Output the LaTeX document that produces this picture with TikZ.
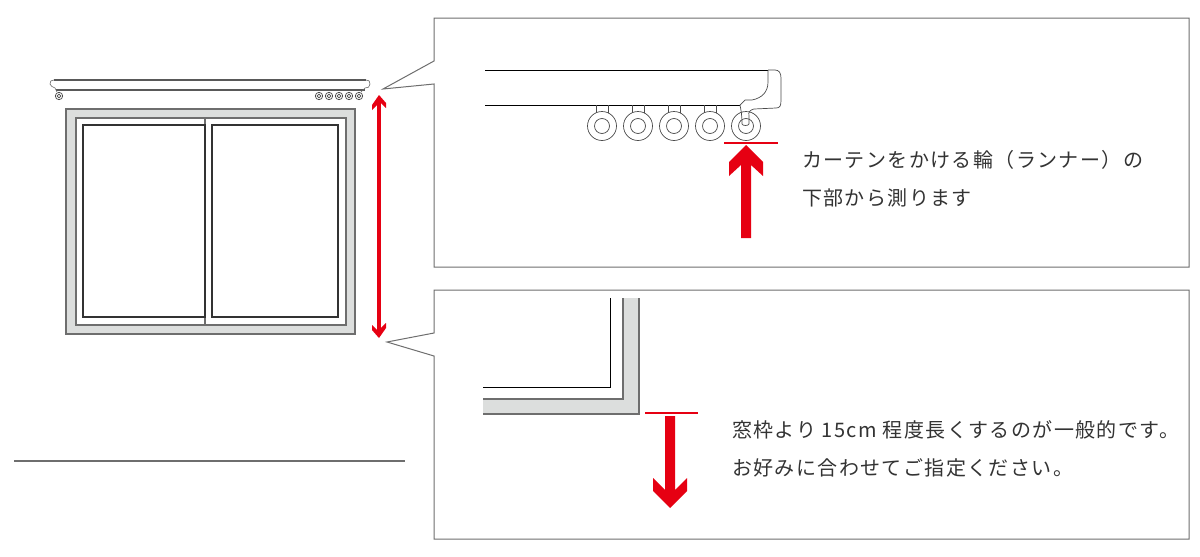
\documentclass[tikz,border=0pt]{standalone}
\usepackage{fontspec}
\newfontfamily\jpfont[LetterSpace=7]{Noto Sans CJK JP}
\definecolor{framegray}{HTML}{DCDEDD}
\definecolor{linegray}{HTML}{6E6E6E}
\definecolor{markred}{HTML}{E60012}
\definecolor{inktext}{HTML}{333333}

\begin{document}
\begin{tikzpicture}[x=1pt,y=-1pt,line join=miter,
    callout/.style={draw=linegray,line width=1pt,fill=white},
    frameline/.style={draw=linegray,line width=1.3pt},
    sashline/.style={draw=black!80,line width=1.1pt},
    thinline/.style={draw=black!70,line width=.7pt},
    redmark/.style={fill=markred,draw=none},
    redline/.style={draw=markred,line width=2pt},
    note/.style={anchor=west,text=inktext,font=\jpfont\fontsize{20}{20}\selectfont,inner sep=0pt}]
    \useasboundingbox (0,0) rectangle (1200,557);

    % callouts
    \draw[callout] (434,18) -- (1189,18) -- (1189,267) -- (434,267) -- (434,84)
      -- (383,89) -- (434,61) -- cycle;
    \draw[callout] (434,290) -- (1189,290) -- (1189,539) -- (434,539) -- (434,356)
      -- (387,342) -- (434,333) -- cycle;
    \draw[draw=linegray,line width=1.1pt] (14,461) -- (405,461);

    % window
    \path[fill=framegray,frameline] (66,109) rectangle (355,334);
    \path[fill=white,frameline] (76,118) rectangle (346,325);
    \draw[frameline] (205,118) -- (205,325);
    \draw[sashline] (83,125) rectangle (205,317);
    \draw[sashline] (212,125) rectangle (338,317);

    % small rail
    \draw[draw=black!65,line width=1.1pt] (54,80) -- (366,80) (56,90) -- (365,90);
    \draw[draw=black!60,line width=.6pt] (54,80) .. controls (51,80) and (50,81) .. (50,84)
      .. controls (50,87) and (53,86) .. (55,88) -- (57,92);
    \draw[draw=black!60,line width=.6pt] (366,80) .. controls (369,80) and (370,81) .. (370,84)
      .. controls (370,87) and (368,88) .. (365,88) -- (361,92);
    \foreach \x in {59,319,329,339,349,359}{
      \draw[draw=black!70,line width=.7pt] (\x,96) circle (3.7) (\x,96) circle (1.8);
    }

    % small arrow
    \coordinate (htop) at (379,95);
    \coordinate (hbot) at (379,338);
    \fill[redmark] (htop) -- ++(7,8) -- ++(0,5) -- ++(-5.2,-5) -- ++(0,225)
      -- ++(5.2,-5) -- ++(0,5) -- (hbot) -- ++(-7,-8) -- ++(0,-5) -- ++(5.2,5)
      -- ++(0,-225) -- ++(-5.2,5) -- ++(0,-5) -- cycle;

    % rail detail
    \draw[draw=black,line width=1pt] (485,70) -- (768,70);
    \draw[draw=black,line width=1pt] (485,105) -- (740,105);
    \draw[thinline] (768,70) -- (775,70) .. controls (779,70) and (781,73) .. (781,78)
      -- (781,100) .. controls (781,106) and (780,108) .. (776,108)
      -- (754,109) .. controls (750,110) and (748,112) .. (749,116) -- (749,124);
    \draw[thinline] (768,70) -- (768,82) .. controls (768,92) and (762,98) .. (752,100)
      -- (745,100) -- (740,105) .. controls (741,110) and (742,115) .. (742,124)
      .. controls (743,126) and (748,126) .. (749,124);
    \foreach \x in {602,638,674,710,746}{
      \draw[thinline] (\x,126) circle (14.5) (\x,126) circle (7.5);
    }
    \foreach \x in {602,638,674,710}{
      \draw[thinline] (\x-6,105) -- (\x-6,112.5) (\x+6,105) -- (\x+6,112.5);
    }
    \draw[redline] (724,142.5) -- (778,142.5);
    \fill[redmark] (746,145) -- (763,162) -- (763,176) -- (751,165) -- (751,238)
      -- (741,238) -- (741,165) -- (729,176) -- (729,162) -- cycle;

    % frame detail
    \path[fill=framegray] (483,399) -- (623,399) -- (623,298) -- (639,298) -- (639,414)
      -- (483,414) -- cycle;
    \draw[frameline] (483,399) -- (623,399) -- (623,298);
    \draw[frameline] (639,298) -- (639,414) -- (483,414);
    \draw[draw=black,line width=1pt] (610,298) -- (610,387) -- (483,387);
    \draw[redline] (645,413) -- (698,413);
    \fill[redmark] (665,416) -- (675,416) -- (675,490) -- (687,478) -- (687,491)
      -- (670,508) -- (653,491) -- (653,478) -- (665,490) -- cycle;

    % texts
    \node[note] (runnera) at (802,160) {カーテンをかける輪（ランナー）の};
    \node[note] (runnerb) at (802,198) {下部から測ります};
    \node[note] (framea) at (732,430) {窓枠より 15cm 程度長くするのが一般的です。};
    \node[note] (frameb) at (732,468) {お好みに合わせてご指定ください。};
\end{tikzpicture}
\end{document}
